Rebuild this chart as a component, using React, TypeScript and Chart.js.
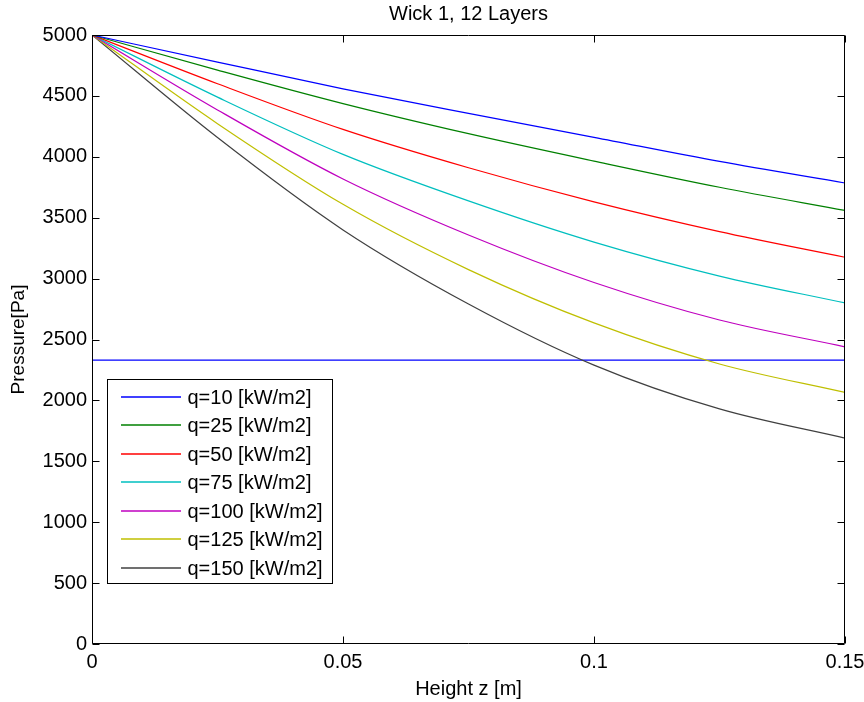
import React, { useEffect, useRef } from 'react';
import { Chart, registerables } from 'chart.js';

Chart.register(...registerables);

// ---- data ----
const heights = [0, 0.025, 0.05, 0.075, 0.1, 0.125, 0.15];
const q10 = [5000, 4778, 4558, 4356, 4160, 3962, 3785];
const q25 = [5000, 4712, 4437, 4190, 3965, 3750, 3560];
const q50 = [5000, 4600, 4225, 3910, 3630, 3386, 3175];
const q75 = [5000, 4490, 4020, 3638, 3300, 3021, 2800];
const q100 = [5000, 4385, 3818, 3358, 2968, 2660, 2440];
const q125 = [5000, 4272, 3610, 3074, 2636, 2299, 2065];
const q150 = [5000, 4158, 3400, 2792, 2290, 1930, 1690];
const limitHeights = [0, 0.15];
const limitPressure = [2330, 2330];

const seriesLabels = [
  'q=10 [kW/m2]',
  'q=25 [kW/m2]',
  'q=50 [kW/m2]',
  'q=75 [kW/m2]',
  'q=100 [kW/m2]',
  'q=125 [kW/m2]',
  'q=150 [kW/m2]',
];
const seriesColors = ['#0000ff', '#008000', '#ff0000', '#00bfbf', '#bf00bf', '#bfbf00', '#404040'];
const limitColor = '#0000ff';

const xTickValues = [0, 0.05, 0.1, 0.15];
const yTickValues = [0, 500, 1000, 1500, 2000, 2500, 3000, 3500, 4000, 4500, 5000];

const titleText = 'Wick 1, 12 Layers';
const xTitle = 'Height z [m]';
const yTitle = 'Pressure[Pa]';

const FONT = '"Liberation Sans", Arial, Helvetica, sans-serif';
const FONT_SIZE = 20;

const matlabPlugin = {
  id: 'matlabDecor',
  afterDatasetsDraw(chart: any) {
    const ctx = chart.ctx;
    const { left, right, top, bottom } = chart.chartArea;
    const xs = chart.scales.x;
    const ys = chart.scales.y;
    const tick = 7;
    ctx.save();
    ctx.strokeStyle = '#000';
    ctx.lineWidth = 1;
    ctx.beginPath();
    const L = Math.round(left) + 0.5;
    const R = Math.round(right) - 0.5;
    const T = Math.round(top) + 0.5;
    const B = Math.round(bottom) - 0.5;
    ctx.rect(L, T, R - L, B - T);
    xTickValues.forEach((v) => {
      const px = Math.round(xs.getPixelForValue(v)) + 0.5;
      ctx.moveTo(px, B);
      ctx.lineTo(px, B - tick);
      ctx.moveTo(px, T);
      ctx.lineTo(px, T + tick);
    });
    yTickValues.forEach((v) => {
      const py = Math.round(ys.getPixelForValue(v)) + 0.5;
      ctx.moveTo(L, py);
      ctx.lineTo(L + tick, py);
      ctx.moveTo(R, py);
      ctx.lineTo(R - tick, py);
    });
    ctx.stroke();

    // legend box
    const lx = L + 15;
    const ly = B - 264;
    const lw = 225;
    const lh = 204;
    ctx.fillStyle = '#fff';
    ctx.fillRect(lx, ly, lw, lh);
    ctx.strokeStyle = '#000';
    ctx.lineWidth = 1;
    ctx.strokeRect(lx, ly, lw, lh);
    ctx.font = `${FONT_SIZE}px ${FONT}`;
    ctx.textBaseline = 'middle';
    ctx.textAlign = 'left';
    const ds = chart.data.datasets;
    let row = 0;
    ds.forEach((d: any) => {
      if (!d.showInLegend) return;
      const cy = Math.round(ly + 17 + row * 28.5);
      ctx.strokeStyle = String(d.borderColor);
      ctx.lineWidth = 1.4;
      ctx.beginPath();
      ctx.moveTo(Math.round(lx + 13), cy);
      ctx.lineTo(Math.round(lx + 73), cy);
      ctx.stroke();
      ctx.fillStyle = '#000';
      ctx.fillText(d.label, lx + 80, cy + 1);
      row++;
    });

    // titles
    ctx.fillStyle = '#000';
    ctx.textAlign = 'center';
    ctx.textBaseline = 'middle';
    const cx = (left + right) / 2;
    ctx.fillText(titleText, cx, 14);
    ctx.fillText(xTitle, cx, 689);
    ctx.save();
    ctx.font = `19px ${FONT}`;
    ctx.translate(19, (top + bottom) / 2);
    ctx.rotate(-Math.PI / 2);
    ctx.fillText(yTitle, 0, 0);
    ctx.restore();
    ctx.restore();
  },
};

export default function App() {
  const ref = useRef<HTMLCanvasElement | null>(null);

  useEffect(() => {
    document.body.style.margin = '0';
    const canvas = ref.current;
    if (!canvas) return;
    const series = [q10, q25, q50, q75, q100, q125, q150];
    const datasets: any[] = series.map((vals, i) => ({
      label: seriesLabels[i],
      data: heights.map((h, j) => ({ x: h, y: vals[j] })),
      borderColor: seriesColors[i],
      backgroundColor: seriesColors[i],
      borderWidth: 1.2,
      pointRadius: 0,
      fill: false,
      cubicInterpolationMode: 'monotone',
      showInLegend: true,
    }));
    datasets.push({
      label: 'limit',
      data: limitHeights.map((h, j) => ({ x: h, y: limitPressure[j] })),
      borderColor: limitColor,
      backgroundColor: limitColor,
      borderWidth: 1.2,
      pointRadius: 0,
      fill: false,
      showInLegend: false,
    });

    const chart = new Chart(canvas, {
      type: 'line',
      data: { datasets },
      options: {
        animation: false,
        responsive: false,
        devicePixelRatio: 1,
        layout: { padding: { top: 35, right: 19, left: 0, bottom: 0 } },
        plugins: {
          legend: { display: false },
          title: { display: false },
          tooltip: { enabled: false },
        },
        scales: {
          x: {
            type: 'linear',
            min: 0,
            max: 0.15,
            afterBuildTicks: (s: any) => {
              s.ticks = xTickValues.map((v) => ({ value: v }));
            },
            afterFit: (s: any) => {
              s.height = 58;
              s.paddingLeft = 0;
              s.paddingRight = 0;
            },
            grid: { display: false, drawTicks: false },
            border: { display: false },
            ticks: {
              color: '#000',
              padding: 6,
              maxRotation: 0,
              autoSkip: false,
              font: { family: FONT, size: FONT_SIZE },
              callback: (v: any) => String(v),
            },
          },
          y: {
            type: 'linear',
            min: 0,
            max: 5000,
            afterBuildTicks: (s: any) => {
              s.ticks = yTickValues.map((v) => ({ value: v }));
            },
            afterFit: (s: any) => {
              s.width = 92;
              s.paddingTop = 0;
              s.paddingBottom = 0;
            },
            grid: { display: false, drawTicks: false },
            border: { display: false },
            ticks: {
              color: '#000',
              padding: 5,
              autoSkip: false,
              font: { family: FONT, size: FONT_SIZE },
              callback: (v: any) => String(v),
            },
          },
        },
      },
      plugins: [matlabPlugin],
    });
    return () => chart.destroy();
  }, []);

  return (
    <div style={{ width: 864, height: 702, background: '#fff' }}>
      <canvas ref={ref} width={864} height={702} style={{ display: 'block' }} />
    </div>
  );
}
